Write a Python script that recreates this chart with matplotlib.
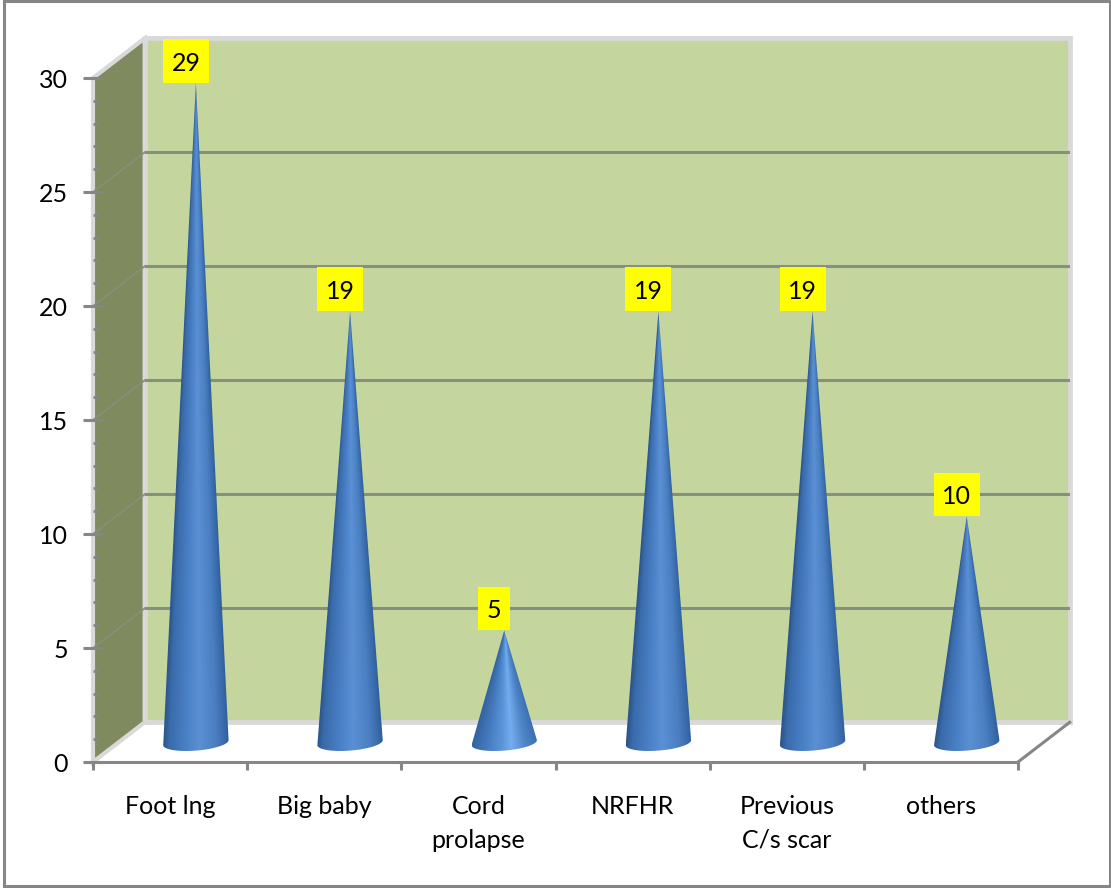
import numpy as np
import matplotlib
matplotlib.use("Agg")
import matplotlib.pyplot as plt
from matplotlib.colors import LinearSegmentedColormap
from matplotlib.patches import Polygon, Rectangle

categories = ["Foot lng", "Big baby", "Cord\nprolapse", "NRFHR", "Previous\nC/s scar", "others"]
values = [29, 19, 5, 19, 19, 10]
y_ticks = [0, 5, 10, 15, 20, 25, 30]

W, H = 1111, 888
AX_L, AX_R, AX_T, AX_B = 93, 1018, 78, 762

GREEN = "#C4D69E"
SIDE = "#7F8A5E"
EDGE = "#D9D9D9"
GREY = "#868686"

# depth of the 3d box in data units
DX = 0.335
DY = 1.74
# cone geometry in data units
BASE_Y = 0.85
TIP_EXTRA = 0.77
HALF_W = 0.212
ELL_H = 0.35
ELL_TILT = 0.11

plt.rcParams["font.family"] = ["Lato", "DejaVu Sans"]

fig = plt.figure(figsize=(W / 100, H / 100), dpi=100)
ax = fig.add_axes([AX_L / W, 1 - AX_B / H, (AX_R - AX_L) / W, (AX_B - AX_T) / H])
ax.set_xlim(0, len(values))
ax.set_ylim(0, 30)
ax.patch.set_alpha(0)

# outer chart frame
fig.add_artist(Rectangle((3.5 / W, 2 / H), 1106.5 / W, 884.5 / H, transform=fig.transFigure,
                         fill=False, ec=GREY, lw=2.2))

n = len(values)
# back wall
ax.add_patch(Rectangle((DX, DY), n, 30, fc=GREEN, ec=EDGE, lw=3.5, clip_on=False, zorder=1))
# side wall
ax.add_patch(Polygon([(0, 0), (DX, DY), (DX, 30 + DY), (0, 30)], fc=SIDE, ec=EDGE, lw=3, clip_on=False, zorder=1))
# floor edge on the right
ax.plot([n, n + DX], [0, DY], color=GREY, lw=2.2, clip_on=False, zorder=2)

# gridlines on back wall and side wall
for t in y_ticks[1:-1]:
    ax.plot([DX + 0.01, n + DX - 0.01], [t + DY, t + DY], color="#8A8F7C", lw=2.2, clip_on=False, zorder=2)
    ax.plot([0, DX], [t, t + DY], color="#8A8E78", lw=1.3, clip_on=False, zorder=2)

tall_cmap = LinearSegmentedColormap.from_list(
    "tall", [(0, "#2B5488"), (0.1, "#3A6CAC"), (0.35, "#4A80C6"), (0.55, "#5B90D4"), (0.8, "#4A7FC2"), (0.93, "#3A6CAC"), (1, "#2F5F9C")])
short_cmap = LinearSegmentedColormap.from_list(
    "short", [(0, "#33629E"), (0.2, "#4177BA"), (0.45, "#5A94D8"), (0.6, "#74ACF0"), (0.8, "#4F86C8"), (1, "#3A70B0")])

for i, v in enumerate(values):
    cx = i + 0.5 + DX / 2
    tip = v + TIP_EXTRA
    # shading follows the cone surface, so it narrows towards the tip
    xs = np.linspace(cx - HALF_W, cx + HALF_W, 200)
    ys = np.linspace(BASE_Y - ELL_H - ELL_TILT, tip, 400)
    gx, gy = np.meshgrid(xs, ys)
    half = np.clip((tip - gy) / (tip - BASE_Y), 0.004, None) * HALF_W
    u = np.clip((gx - cx) / half * 0.5 + 0.5, 0, 1)
    im = ax.imshow(u, extent=(xs[0], xs[-1], ys[0], ys[-1]), origin="lower", aspect="auto",
                   cmap=short_cmap if v < 10 else tall_cmap, vmin=0, vmax=1, zorder=3)
    th = np.linspace(np.pi, 2 * np.pi, 60)
    outline = [(cx, tip)] + [(cx + HALF_W * np.cos(a), BASE_Y + ELL_H * np.sin(a) + ELL_TILT * np.cos(a))
                             for a in th[::-1]]
    clip = Polygon(outline, transform=ax.transData, fc="none", ec="none")
    ax.add_patch(clip)
    im.set_clip_path(clip)

    # value label box, sized to the number of digits
    bw = 0.149 if v >= 10 else 0.104
    bh = 1.89
    bx = cx - 0.065
    ax.add_patch(Rectangle((bx - bw, tip + 0.03), 2 * bw, bh, fc="#FFFF00", ec="none", clip_on=False, zorder=4))
    ax.text(bx, tip + 0.03 + bh / 2 - 0.1, str(v), ha="center", va="center", fontsize=18, color="black",
            zorder=5, clip_on=False)

ax.set_xlim(0, n)
ax.set_ylim(0, 30)

for s in ["top", "right", "left"]:
    ax.spines[s].set_visible(False)
ax.spines["bottom"].set_color(GREY)
ax.spines["bottom"].set_linewidth(2.2)
ax.spines["bottom"].set_zorder(6)

ax.set_yticks(y_ticks)
ax.set_yticks(np.arange(0, 31), minor=True)
ax.set_xticks(np.arange(n + 1))
ax.set_xticklabels([])
ax.set_xticks(np.arange(n) + 0.5, minor=True)
ax.set_xticklabels(categories, minor=True, linespacing=1.55)
ax.tick_params(axis="y", which="major", direction="inout", length=14, width=2.2, color=GREY,
               labelsize=18, pad=11)
ax.tick_params(axis="y", which="minor", direction="in", length=3.5, width=2, color=GREY)
ax.tick_params(axis="x", which="major", direction="out", length=6, width=2.2, color=GREY)
ax.tick_params(axis="x", which="minor", length=0, labelsize=18, pad=24)
ax.set_axisbelow(False)

fig.savefig("out.png", dpi=100, facecolor="white")
